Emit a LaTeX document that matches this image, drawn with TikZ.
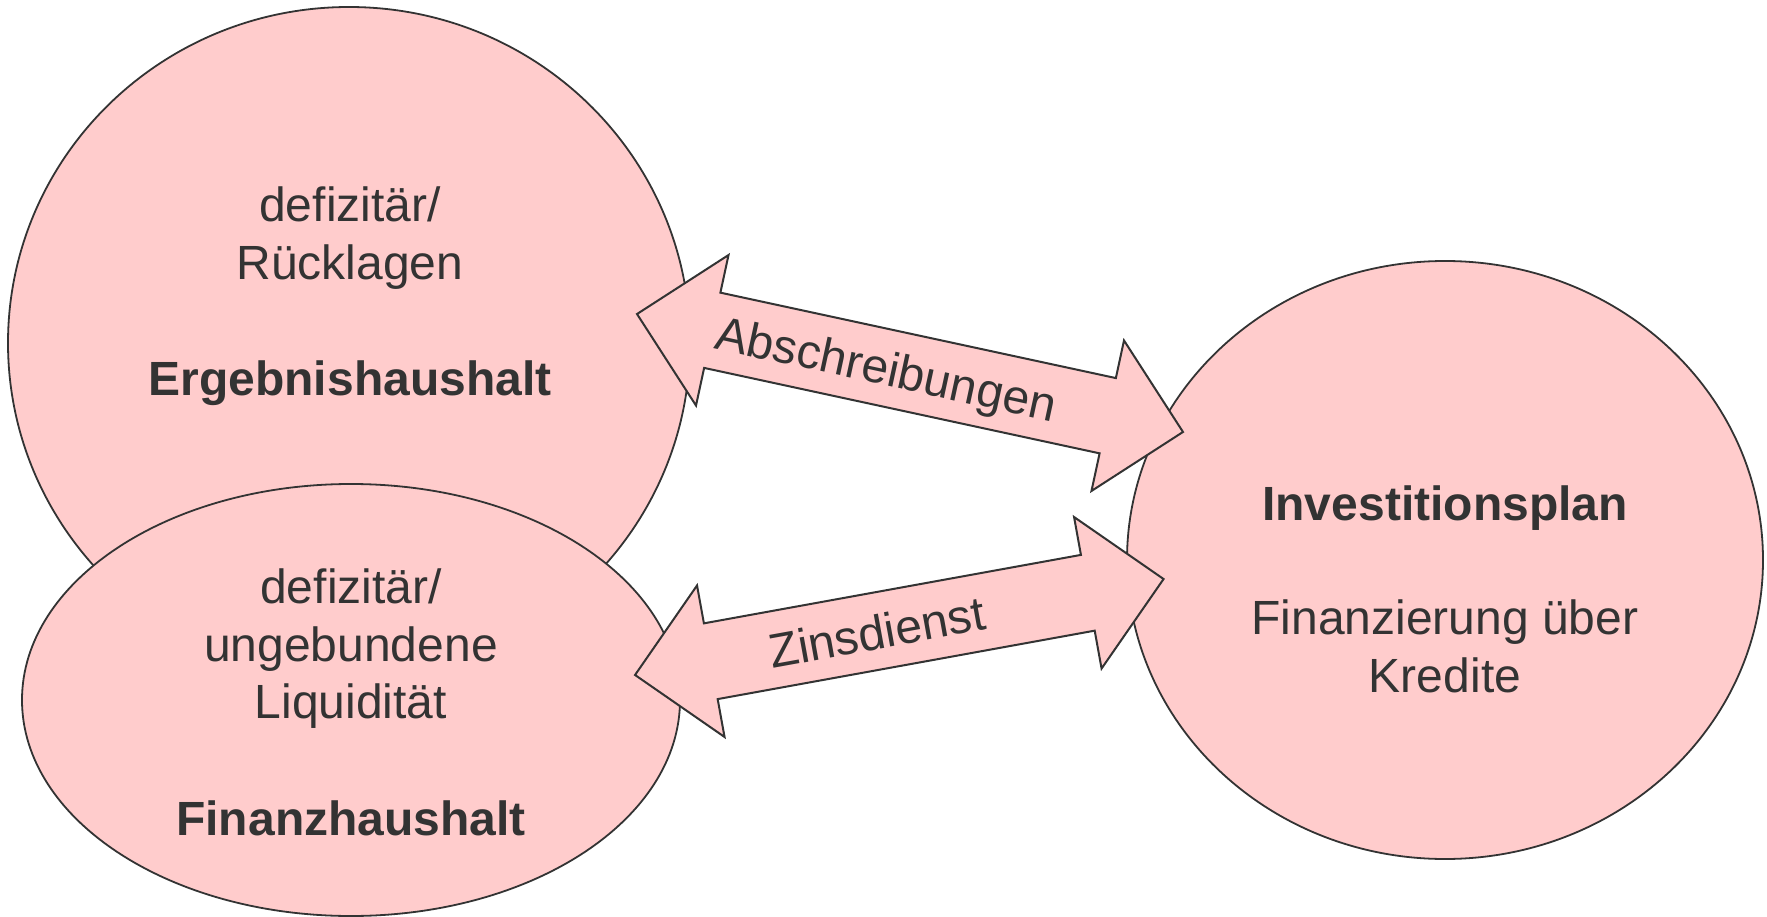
\documentclass[tikz,border=0pt]{standalone}
\usepackage{fontspec}
\setmainfont{Liberation Sans}
\usetikzlibrary{shapes.geometric}
\definecolor{pinkfill}{HTML}{FFCCCC}
\definecolor{darkline}{HTML}{333333}
\tikzset{
  ell/.style={ellipse, draw=darkline, line width=1.8pt, fill=pinkfill, inner sep=0pt},
  blockarrow/.style={draw=darkline, line width=2pt, fill=pinkfill, line join=miter},
  lbl/.style={text=darkline, inner sep=0pt, font=\fontsize{48}{57.6}\selectfont},
  boldlbl/.style={lbl, font=\fontsize{48}{57.6}\selectfont\bfseries}
}
\begin{document}
\begin{tikzpicture}[x=1pt, y=-1pt]
\useasboundingbox (0,0) rectangle (1767,917);
% ellipses
\node[ell, minimum width=682pt, minimum height=672pt] (E) at (349,343) {};
\node[ell, minimum width=658pt, minimum height=432pt] (F) at (351,700) {};
\node[ell, minimum width=636pt, minimum height=598pt] (I) at (1445,560) {};
% texts of Ergebnishaushalt
\node[lbl, anchor=base] (e1) at (350,222) {defizitär/};
\node[lbl, anchor=base] (e2) at (350,280) {Rücklagen};
\node[boldlbl, anchor=base] (e3) at (350,395) {Ergebnishaushalt};
% texts of Finanzhaushalt
\node[lbl, anchor=base] (f1) at (351,603) {defizitär/};
\node[lbl, anchor=base] (f2) at (351,661) {ungebundene};
\node[lbl, anchor=base] (f3) at (351,718) {Liquidität};
\node[boldlbl, anchor=base] (f4) at (351,835) {Finanzhaushalt};
% texts of Investitionsplan
\node[boldlbl, anchor=base] (i1) at (1445,520) {Investitionsplan};
\node[lbl, anchor=base] (i2) at (1445,634) {Finanzierung über};
\node[lbl, anchor=base] (i3) at (1445,692) {Kredite};
% arrow Abschreibungen (E <-> I)
\begin{scope}[shift={(910,373)}, rotate=-12.19]
\draw[blockarrow] (-279.3,0) -- (-202.3,-77) -- (-202.3,-38.5) -- (202.3,-38.5) -- (202.3,-77) -- (279.3,0) -- (202.3,77) -- (202.3,38.5) -- (-202.3,38.5) -- (-202.3,77) -- cycle;
\node[lbl, anchor=base, rotate=-12.19] (abs) at (-24,17.5) {Abschreibungen};
\end{scope}
% arrow Zinsdienst (F <-> I)
\begin{scope}[shift={(899.3,627)}, rotate=10.29]
\draw[blockarrow] (-268.6,0) -- (-191.6,-77) -- (-191.6,-38.5) -- (191.6,-38.5) -- (191.6,-77) -- (268.6,0) -- (191.6,77) -- (191.6,38.5) -- (-191.6,38.5) -- (-191.6,77) -- cycle;
\node[lbl, anchor=base, rotate=10.29] (zins) at (-23,18) {Zinsdienst};
\end{scope}
\end{tikzpicture}
\end{document}
